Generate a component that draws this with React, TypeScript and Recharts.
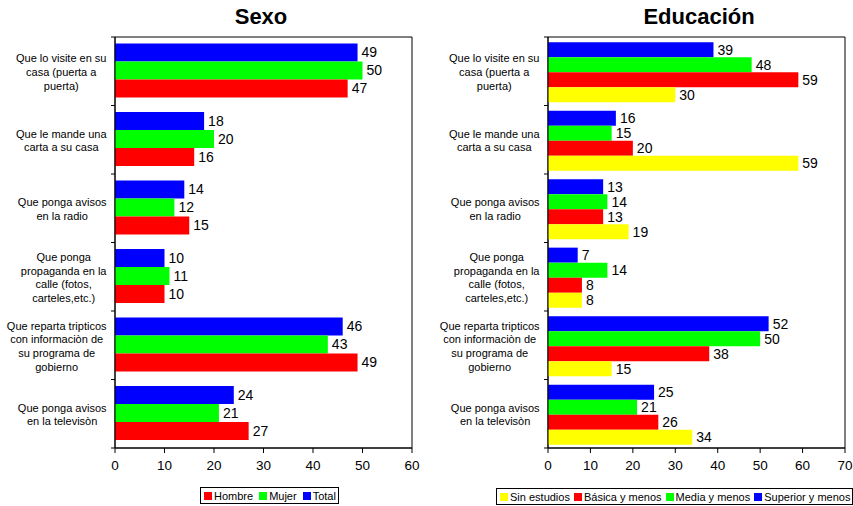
import React from 'react';
import { BarChart, Bar, XAxis, YAxis, LabelList, ReferenceArea } from 'recharts';

const categories = [
  'Que lo visite en su\ncasa (puerta a\npuerta)',
  'Que le mande una\ncarta a su casa',
  'Que ponga avisos\nen la radio',
  'Que ponga\npropaganda en la\ncalle (fotos,\ncarteles,etc.)',
  'Que reparta tripticos\ncon informaciòn de\nsu programa de\ngobierno',
  'Que ponga avisos\nen la televisòn',
];

// Sexo
const hombre = [47, 16, 15, 10, 49, 27];
const mujer = [50, 20, 12, 11, 43, 21];
const total = [49, 18, 14, 10, 46, 24];

// Educación
const sinEstudios = [30, 59, 19, 8, 15, 34];
const basica = [59, 20, 13, 8, 38, 26];
const media = [48, 15, 14, 14, 50, 21];
const superior = [39, 16, 13, 7, 52, 25];

const sexoTicks = [0, 10, 20, 30, 40, 50, 60];
const eduTicks = [0, 10, 20, 30, 40, 50, 60, 70];

const sexoData = categories.map((c, i) => ({
  name: c,
  hombre: hombre[i],
  mujer: mujer[i],
  total: total[i],
}));

const eduData = categories.map((c, i) => ({
  name: c,
  sin: sinEstudios[i],
  basica: basica[i],
  media: media[i],
  superior: superior[i],
}));

const FONT = '"Liberation Sans", Arial, sans-serif';
const BLUE = '#0000FF';
const GREEN = '#00FF00';
const RED = '#FF0000';
const YELLOW = '#FFFF00';

// width of the widest line, so the block sits right-aligned and lines centred in it
let ctx: CanvasRenderingContext2D | null = null;
const textWidth = (s: string) => {
  if (!ctx) {
    ctx = document.createElement('canvas').getContext('2d');
    if (ctx) ctx.font = '11px "Liberation Sans", Arial, sans-serif';
  }
  return ctx ? ctx.measureText(s).width : s.length * 5;
};

const CatTick = (props: any) => {
  const { x, y, payload } = props;
  const lines = String(payload.value).split('\n');
  const lh = 13.7;
  const half = payload.offset || 34.25;
  const y0 = y - ((lines.length - 1) * lh) / 2 + 1;
  const maxW = Math.max(...lines.map(textWidth));
  const cx = x - 8.5 - maxW / 2;
  return (
    <g>
      <text textAnchor="middle" fontSize={11} fill="#000" fontFamily={FONT}>
        {lines.map((l, i) => (
          <tspan key={i} x={cx} y={y0 + i * lh} dy="0.35em">
            {l}
          </tspan>
        ))}
      </text>
      <line x1={x - 4} x2={x} y1={y - half} y2={y - half} stroke="#000" />
      {payload.index === categories.length - 1 && (
        <line x1={x - 4} x2={x} y1={y + half} y2={y + half} stroke="#000" />
      )}
    </g>
  );
};

const labelStyle = { fontSize: 14, fill: '#000', fontFamily: FONT };

type Item = { name: string; color: string };

const LegendBox = ({ items, left, top, gap }: { items: Item[]; left: number; top: number; gap: number }) => (
  <div
    style={{
      position: 'absolute',
      left,
      top,
      height: 15,
      border: '1px solid #000',
      display: 'flex',
      alignItems: 'center',
      padding: '0 2px 0 3px',
      fontFamily: FONT,
      fontSize: 11,
      whiteSpace: 'nowrap',
      background: '#fff',
    }}
  >
    {items.map((it, i) => (
      <div key={i} style={{ display: 'flex', alignItems: 'center', marginRight: i === items.length - 1 ? 0 : gap }}>
        <span style={{ display: 'inline-block', width: 8, height: 8, background: it.color, marginRight: 2 }} />
        <span>{it.name}</span>
      </div>
    ))}
  </div>
);

const Title = ({ text, cx }: { text: string; cx: number }) => (
  <div
    style={{
      position: 'absolute',
      left: cx - 100,
      top: 3,
      width: 200,
      textAlign: 'center',
      fontFamily: FONT,
      fontWeight: 'bold',
      fontSize: 22,
      lineHeight: '27px',
    }}
  >
    {text}
  </div>
);

const App = () => {
  return (
    <div style={{ position: 'absolute', left: 0, top: 0, width: 853, height: 506, background: '#fff' }}>
      <Title text="Sexo" cx={261} />
      <Title text="Educación" cx={699} />

      <div style={{ position: 'absolute', left: 0, top: 0 }}>
        <BarChart
          width={430}
          height={506}
          data={sexoData}
          layout="vertical"
          margin={{ top: 37, right: 18, bottom: 28, left: 0 }}
          barCategoryGap="9.5%"
          barGap={0}
        >
          <XAxis
            type="number"
            domain={[0, 60]}
            ticks={sexoTicks}
            tickSize={5}
            tickMargin={7}
            stroke="#000"
            tick={{ fontSize: 13.5, fill: '#000', fontFamily: FONT }}
            interval={0}
          />
          <YAxis
            type="category"
            dataKey="name"
            width={115}
            tickLine={false}
            tickSize={0}
            tickMargin={0}
            stroke="#000"
            tick={<CatTick />}
            interval={0}
          />
          <ReferenceArea x1={0} x2={60} fill="none" stroke="#000" strokeWidth={1} />
          <Bar dataKey="total" fill={BLUE} isAnimationActive={false}>
            <LabelList dataKey="total" position="right" offset={4} style={labelStyle} />
          </Bar>
          <Bar dataKey="mujer" fill={GREEN} isAnimationActive={false}>
            <LabelList dataKey="mujer" position="right" offset={4} style={labelStyle} />
          </Bar>
          <Bar dataKey="hombre" fill={RED} isAnimationActive={false}>
            <LabelList dataKey="hombre" position="right" offset={4} style={labelStyle} />
          </Bar>
        </BarChart>
      </div>

      <div style={{ position: 'absolute', left: 430, top: 0 }}>
        <BarChart
          width={423}
          height={506}
          data={eduData}
          layout="vertical"
          margin={{ top: 37, right: 8, bottom: 28, left: 0 }}
          barCategoryGap="7.5%"
          barGap={0}
        >
          <XAxis
            type="number"
            domain={[0, 70]}
            ticks={eduTicks}
            tickSize={5}
            tickMargin={7}
            stroke="#000"
            tick={{ fontSize: 13.5, fill: '#000', fontFamily: FONT }}
            interval={0}
          />
          <YAxis
            type="category"
            dataKey="name"
            width={118}
            tickLine={false}
            tickSize={0}
            tickMargin={0}
            stroke="#000"
            tick={<CatTick />}
            interval={0}
          />
          <ReferenceArea x1={0} x2={70} fill="none" stroke="#000" strokeWidth={1} />
          <Bar dataKey="superior" fill={BLUE} isAnimationActive={false}>
            <LabelList dataKey="superior" position="right" offset={4} style={labelStyle} />
          </Bar>
          <Bar dataKey="media" fill={GREEN} isAnimationActive={false}>
            <LabelList dataKey="media" position="right" offset={4} style={labelStyle} />
          </Bar>
          <Bar dataKey="basica" fill={RED} isAnimationActive={false}>
            <LabelList dataKey="basica" position="right" offset={4} style={labelStyle} />
          </Bar>
          <Bar dataKey="sin" fill={YELLOW} isAnimationActive={false}>
            <LabelList dataKey="sin" position="right" offset={4} style={labelStyle} />
          </Bar>
        </BarChart>
      </div>

      <LegendBox
        left={200}
        top={487}
        gap={6}
        items={[
          { name: 'Hombre', color: RED },
          { name: 'Mujer', color: GREEN },
          { name: 'Total', color: BLUE },
        ]}
      />
      <LegendBox
        left={496}
        top={488}
        gap={4}
        items={[
          { name: 'Sin estudios', color: YELLOW },
          { name: 'Básica y menos', color: RED },
          { name: 'Media y menos', color: GREEN },
          { name: 'Superior y menos', color: BLUE },
        ]}
      />
    </div>
  );
};

export default App;
